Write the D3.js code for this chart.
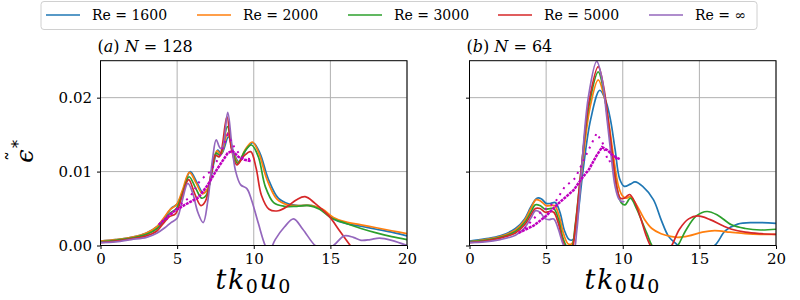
<!DOCTYPE html>
<html>
<head>
    <title>Dissipation chart</title>
    <script src="https://cdn.jsdelivr.net/npm/d3@7"></script>
    <style>
        body { margin: 0; background: white; }
    </style>
</head>
<body>
<div id="my_dataviz"></div>
<script>
    // legend / series names and colours
    const seriesNames = ["Re = 1600", "Re = 2000", "Re = 3000", "Re = 5000", "Re = ∞"];
    const seriesColors = ["#1f77b4", "#ff7f0e", "#2ca02c", "#d62728", "#9467bd"];
    const xTicks = [0, 5, 10, 15, 20];
    const yTicks = [0, 0.01, 0.02];

    // panel (a) N = 128 : [t, eps]
    const a1600 = [[0,0.0006],[1,0.0008],[2,0.0011],[3,0.0017],[3.7,0.0026],[4.2,0.0038],[4.6,0.0050],[5.0,0.0056],[5.4,0.0075],[5.85,0.0100],[6.3,0.0085],[6.7,0.0071],[7.0,0.0076],[7.4,0.0112],[7.65,0.0129],[7.9,0.0124],[8.35,0.0147],[8.7,0.0125],[9.05,0.0113],[9.5,0.0130],[9.95,0.0139],[10.4,0.0125],[10.95,0.0090],[11.6,0.0064],[12.3,0.0056],[13.0,0.0054],[13.8,0.0054],[14.5,0.0048],[15.2,0.0036],[16,0.0030],[17,0.0026],[18,0.0022],[19,0.0018],[20,0.0013]];
    const a2000 = [[0,0.0006],[1,0.0008],[2,0.0011],[3,0.0017],[3.7,0.0026],[4.15,0.0038],[4.55,0.0049],[4.95,0.0055],[5.35,0.0075],[5.8,0.0099],[6.25,0.0084],[6.65,0.0070],[6.95,0.0075],[7.35,0.0111],[7.6,0.0128],[7.85,0.0123],[8.3,0.0152],[8.65,0.0126],[9.0,0.0112],[9.45,0.0130],[9.9,0.0140],[10.35,0.0124],[10.85,0.0090],[11.5,0.0063],[12.2,0.0055],[13.0,0.0054],[13.8,0.0054],[14.5,0.0049],[15.2,0.0038],[16,0.0032],[17,0.0028],[18,0.0024],[19,0.0020],[20,0.0016]];
    const a3000 = [[0,0.0005],[1,0.0007],[2,0.0010],[3,0.0015],[3.7,0.0023],[4.15,0.0034],[4.55,0.0044],[4.95,0.0050],[5.35,0.0070],[5.78,0.0093],[6.2,0.0078],[6.6,0.0064],[6.9,0.0068],[7.3,0.0106],[7.55,0.0125],[7.8,0.0122],[8.28,0.0161],[8.6,0.0128],[8.95,0.0111],[9.4,0.0127],[9.85,0.0136],[10.3,0.0120],[10.75,0.0080],[11.3,0.0058],[12.0,0.0053],[12.8,0.0053],[13.6,0.0054],[14.3,0.0049],[15.0,0.0038],[16,0.0030],[17,0.0023],[18,0.0017],[19,0.0012],[20,0.0008]];
    const a5000 = [[0,0.0004],[1,0.0006],[2,0.0009],[3,0.0013],[3.7,0.0020],[4.1,0.0030],[4.5,0.0039],[4.9,0.0043],[5.3,0.0065],[5.75,0.0089],[6.15,0.0070],[6.55,0.0054],[6.85,0.0060],[7.25,0.0100],[7.5,0.0122],[7.75,0.0120],[8.25,0.0174],[8.55,0.0130],[8.9,0.0109],[9.35,0.0121],[9.8,0.0127],[10.15,0.0105],[10.5,0.0068],[11.0,0.0049],[11.6,0.0047],[12.2,0.0053],[12.8,0.0062],[13.35,0.0066],[14.0,0.0057],[14.9,0.0040],[15.6,0.0020],[16.3,0.0000],[16.8,-0.0012]];
    const aInf = [[0,0.0004],[1,0.0005],[2,0.0008],[3,0.0011],[3.7,0.0017],[4.2,0.0024],[4.6,0.0031],[5.0,0.0037],[5.3,0.0058],[5.7,0.0084],[6.0,0.0072],[6.35,0.0045],[6.7,0.0031],[7.0,0.0060],[7.3,0.0115],[7.55,0.0143],[7.8,0.0132],[7.95,0.0132],[8.3,0.0180],[8.55,0.0140],[8.8,0.0102],[9.15,0.0082],[9.55,0.0077],[9.85,0.0062],[10.3,0.0030],[10.75,0.0000],[11.0,-0.0008],[11.4,0.0008],[12.0,0.0025],[12.6,0.0036],[13.2,0.0022],[14.0,0.0000],[14.5,-0.0006],[15.2,0.0000],[15.9,0.0013],[16.5,0.0011],[17.0,0.0007],[17.6,0.0008],[18.2,0.0010],[19.0,0.0007],[20,0.0000]];
    const aRefDense = [[3.8,0.0028],[4.7,0.0045],[5.5,0.0055],[6.4,0.0065],[7.0,0.0082],[7.6,0.0103],[8.3,0.0125],[8.6,0.0128],[9.0,0.0120],[9.4,0.0116],[9.85,0.0114]];
    const aRefSparse = [[4.3,0.0035],[5.2,0.0055],[5.85,0.0066],[6.5,0.0088],[7.15,0.0100],[7.8,0.0121],[8.3,0.0150],[8.75,0.0132],[9.3,0.0118],[9.8,0.0117]];

    // panel (b) N = 64
    const b1600 = [[0,0.0006],[1,0.0009],[2,0.0013],[3,0.0023],[3.6,0.0036],[4.0,0.0052],[4.4,0.0064],[4.7,0.0063],[5.0,0.0057],[5.3,0.0057],[5.6,0.0058],[5.9,0.0045],[6.2,0.0020],[6.5,0.0008],[6.75,0.0008],[7.0,0.0030],[7.4,0.0100],[7.9,0.0170],[8.5,0.0210],[8.9,0.0195],[9.2,0.0170],[9.5,0.0130],[9.8,0.0090],[10.1,0.0080],[10.5,0.0083],[10.8,0.0086],[11.3,0.0080],[12.0,0.0062],[12.5,0.0035],[13.0,0.0012],[13.6,0.0000],[14.2,-0.0012],[15.0,-0.0010],[16.0,0.0000],[16.7,0.0020],[17.5,0.0029],[18.5,0.0031],[20,0.0030]];
    const b2000 = [[0,0.0005],[1,0.0008],[2,0.0012],[3,0.0021],[3.6,0.0034],[4.0,0.0050],[4.35,0.0062],[4.65,0.0060],[5.0,0.0054],[5.3,0.0054],[5.55,0.0054],[5.85,0.0040],[6.15,0.0015],[6.45,0.0002],[6.7,0.0003],[6.95,0.0030],[7.35,0.0105],[7.85,0.0185],[8.4,0.0224],[8.8,0.0200],[9.1,0.0165],[9.4,0.0120],[9.7,0.0082],[9.95,0.0068],[10.2,0.0064],[10.5,0.0066],[10.9,0.0055],[11.4,0.0036],[11.9,0.0023],[12.5,0.0016],[13.2,0.0012],[13.6,0.0011],[14.3,0.0013],[15.2,0.0018],[16.0,0.0020],[17.0,0.0018],[18.0,0.0016],[19,0.0015],[20,0.0015]];
    const b3000 = [[0,0.0005],[1,0.0007],[2,0.0011],[3,0.0019],[3.6,0.0031],[4.0,0.0045],[4.3,0.0055],[4.6,0.0054],[4.95,0.0049],[5.25,0.0050],[5.5,0.0050],[5.8,0.0036],[6.1,0.0010],[6.4,-0.0003],[6.65,-0.0003],[6.9,0.0028],[7.3,0.0105],[7.8,0.0190],[8.4,0.0235],[8.75,0.0210],[9.05,0.0165],[9.35,0.0115],[9.65,0.0075],[9.9,0.0058],[10.15,0.0055],[10.5,0.0064],[10.9,0.0050],[11.3,0.0030],[11.6,0.0015],[11.9,0.0000],[12.5,-0.0015],[13.1,-0.0012],[13.6,0.0000],[14.1,0.0020],[14.8,0.0040],[15.5,0.0046],[16.2,0.0041],[17.1,0.0028],[18.0,0.0023],[19,0.0021],[20,0.0022]];
    const b5000 = [[0,0.0004],[1,0.0006],[2,0.0010],[3,0.0017],[3.6,0.0028],[4.0,0.0041],[4.3,0.0050],[4.6,0.0050],[4.95,0.0045],[5.25,0.0046],[5.5,0.0045],[5.8,0.0030],[6.1,0.0005],[6.4,-0.0008],[6.65,-0.0008],[6.9,0.0025],[7.3,0.0105],[7.8,0.0195],[8.4,0.0242],[8.75,0.0215],[9.05,0.0170],[9.35,0.0118],[9.6,0.0080],[9.85,0.0064],[10.1,0.0064],[10.45,0.0069],[10.8,0.0058],[11.2,0.0035],[11.5,0.0015],[11.8,0.0000],[12.3,-0.0015],[12.8,-0.0012],[13.2,0.0000],[13.7,0.0022],[14.3,0.0036],[14.9,0.0040],[15.7,0.0035],[16.5,0.0027],[17.1,0.0022],[18.0,0.0018],[19,0.0016],[20,0.0015]];
    const bInf = [[0,0.0004],[1,0.0005],[2,0.0008],[3,0.0014],[3.6,0.0024],[4.0,0.0037],[4.3,0.0047],[4.6,0.0045],[4.95,0.0036],[5.2,0.0035],[5.5,0.0036],[5.8,0.0022],[6.1,0.0002],[6.4,-0.0010],[6.75,-0.0010],[7.0,0.0020],[7.3,0.0100],[7.75,0.0200],[8.3,0.0249],[8.65,0.0225],[8.95,0.0175],[9.25,0.0120],[9.5,0.0080],[9.75,0.0063],[10.0,0.0059],[10.1,0.0060]];
    const bRefDense = [[3.2,0.0017],[4.2,0.0027],[5.0,0.0040],[5.7,0.0055],[6.8,0.0075],[7.3,0.0090],[7.8,0.0103],[8.3,0.0122],[8.65,0.0133],[9.0,0.0129],[9.4,0.0121],[9.8,0.0117]];
    const bRefSparse = [[3.6,0.0023],[4.4,0.0041],[5.6,0.0059],[6.2,0.0079],[6.9,0.0091],[7.6,0.0122],[8.3,0.0152],[8.7,0.0138],[9.05,0.0113],[9.8,0.0120]];

    const panels = [
        { id: "a", left: 100.5, title: ["(", "a", ") ", "N", " = 128"], series: [a1600, a2000, a3000, a5000, aInf], dense: aRefDense, sparse: aRefSparse, yLabels: true },
        { id: "b", left: 469.5, title: ["(", "b", ") ", "N", " = 64"], series: [b1600, b2000, b3000, b5000, bInf], dense: bRefDense, sparse: bRefSparse, yLabels: false }
    ];
    const pw = 306.5, plotTop = 60.7, plotBottom = 245.5;
    const serif = "DejaVu Serif";

    const svg = d3.select("#my_dataviz")
        .append("svg")
        .attr("width", 800)
        .attr("height", 300)
        .style("font-family", serif);

    panels.forEach(p => {
        const x = d3.scaleLinear().domain([0, 20]).range([p.left, p.left + pw]);
        const y = d3.scaleLinear().domain([0, 0.025]).range([plotBottom, plotTop]);

        // grid
        const grid = svg.append("g").attr("stroke", "#b0b0b0").attr("stroke-width", 1);
        grid.selectAll("line.gx").data(xTicks).enter().append("line")
            .attr("x1", d => x(d)).attr("x2", d => x(d))
            .attr("y1", plotTop).attr("y2", plotBottom);
        grid.selectAll("line.gy").data(yTicks).enter().append("line")
            .attr("x1", p.left).attr("x2", p.left + pw)
            .attr("y1", d => y(d)).attr("y2", d => y(d));

        svg.append("clipPath").attr("id", "clip-" + p.id)
            .append("rect")
            .attr("x", p.left).attr("y", plotTop)
            .attr("width", pw).attr("height", plotBottom - plotTop);

        const plot = svg.append("g").attr("clip-path", `url(#clip-${p.id})`);
        const line = d3.line()
            .x(d => x(d[0]))
            .y(d => y(d[1]))
            .curve(d3.curveCatmullRom.alpha(0.5));

        p.series.forEach((s, i) => {
            plot.append("path")
                .datum(s)
                .attr("fill", "none")
                .attr("stroke", seriesColors[i])
                .attr("stroke-width", 1.7)
                .attr("d", line);
        });
        // reference data (magenta)
        const refLine = d3.line().x(d => x(d[0])).y(d => y(d[1]));
        plot.append("path")
            .datum(p.dense)
            .attr("fill", "none")
            .attr("stroke", "#bf00bf")
            .attr("stroke-width", 2.5)
            .attr("stroke-dasharray", "3,0.8")
            .attr("d", refLine);
        plot.append("path")
            .datum(p.sparse)
            .attr("fill", "none")
            .attr("stroke", "#bf00bf")
            .attr("stroke-width", 2)
            .attr("stroke-dasharray", "2,5")
            .attr("d", refLine);

        // axes
        const xAxis = svg.append("g")
            .attr("transform", `translate(0, ${plotBottom})`)
            .call(d3.axisBottom(x).tickValues(xTicks).tickSize(3.5).tickPadding(4).tickFormat(d3.format("d")));
        xAxis.attr("font-family", null).attr("font-size", 15);
        xAxis.select(".domain").remove();
        xAxis.selectAll("text").attr("fill", "black");
        xAxis.selectAll("line").attr("stroke", "black");

        const yAxis = svg.append("g")
            .attr("transform", `translate(${p.left}, 0)`)
            .call(d3.axisLeft(y).tickValues(yTicks).tickSize(3.5).tickPadding(5)
                .tickFormat(p.yLabels ? d3.format(".2f") : () => ""));
        yAxis.attr("font-family", null).attr("font-size", 15);
        yAxis.select(".domain").remove();
        yAxis.selectAll("text").attr("fill", "black");
        yAxis.selectAll("line").attr("stroke", "black");

        // frame
        svg.append("rect")
            .attr("x", p.left).attr("y", plotTop)
            .attr("width", pw).attr("height", plotBottom - plotTop)
            .attr("fill", "none").attr("stroke", "black").attr("stroke-width", 1);

        // title
        const t = svg.append("text")
            .attr("x", p.left - 3).attr("y", 52)
            .attr("font-size", 16);
        p.title.forEach((s, i) => {
            t.append("tspan").text(s).attr("font-style", (i == 1 || i == 3) ? "italic" : "normal");
        });

        // x label
        const xl = svg.append("text")
            .attr("x", p.left + pw / 2).attr("y", 289)
            .attr("text-anchor", "middle")
            .attr("font-size", 27)
            .attr("letter-spacing", 1.5)
            .attr("font-style", "italic");
        xl.append("tspan").text("tk");
        xl.append("tspan").text("0").attr("font-style", "normal").attr("font-size", 19).attr("dy", 4);
        xl.append("tspan").text("u").attr("dy", -4);
        xl.append("tspan").text("0").attr("font-style", "normal").attr("font-size", 19).attr("dy", 4);
    });

    // y label: rotated epsilon with tilde and star
    const yl = svg.append("g").attr("transform", "translate(33, 156) rotate(-90)");
    yl.append("text").attr("x", 0).attr("y", 0).attr("text-anchor", "middle")
        .attr("font-size", 24).attr("font-style", "italic").text("ϵ");
    yl.append("text").attr("x", 0).attr("y", -12).attr("text-anchor", "middle")
        .attr("font-size", 20).text("˜");
    yl.append("text").attr("x", 8).attr("y", -9)
        .attr("font-size", 16).text("*");

    // legend
    const legendX = [46, 197, 348, 498, 649];
    const lg = svg.append("g");
    lg.append("rect")
        .attr("x", 41).attr("y", 1.5).attr("width", 716).attr("height", 28)
        .attr("rx", 3).attr("fill", "white").attr("stroke", "#d0d0d0").attr("stroke-width", 1);
    seriesNames.forEach((n, i) => {
        lg.append("line")
            .attr("x1", legendX[i]).attr("x2", legendX[i] + 34)
            .attr("y1", 15).attr("y2", 15)
            .attr("stroke", seriesColors[i]).attr("stroke-width", 1.5);
        lg.append("text")
            .attr("x", legendX[i] + 46).attr("y", 20)
            .attr("font-size", 14)
            .text(n);
    });
</script>
</body>
</html>
